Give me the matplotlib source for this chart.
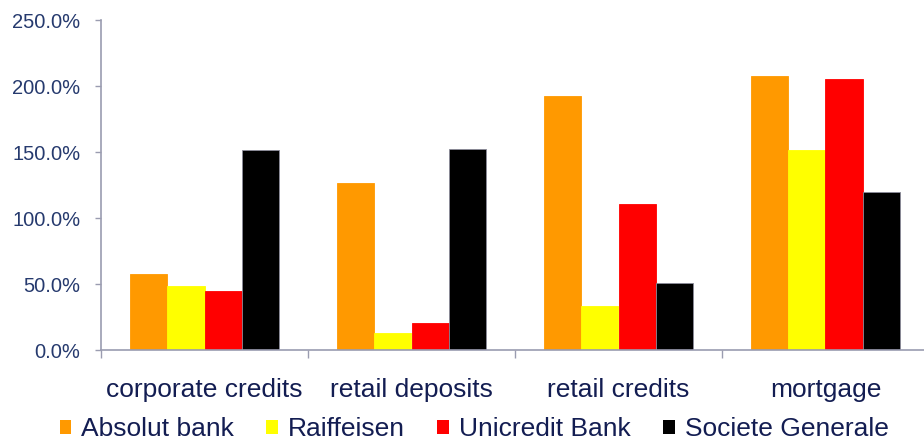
import matplotlib.pyplot as plt
import numpy as np
from matplotlib.patches import Patch
from matplotlib.ticker import FuncFormatter

# data (in %)
categories = ['corporate credits', 'retail deposits', 'retail credits', 'mortgage']
banks      = ['Absolut bank', 'Raiffeisen', 'Unicredit Bank', 'Societe Generale']
colors     = ['#FF9900', '#FFFF00', '#FF0000', '#000000']
absolut    = [57.5, 126.5, 192.5, 207.5]
raiffeisen = [48.5, 13.0, 33.5, 151.5]
unicredit  = [44.5, 20.5, 110.5, 205.5]
societe    = [151.5, 152.0, 50.5, 119.5]
yticks     = [0, 50, 100, 150, 200, 250]

plt.rcParams['font.family'] = ['Liberation Sans', 'DejaVu Sans']
AXIS  = '#9A9CB0'
TICK  = '#263A6E'
LABEL = '#131D52'

fig = plt.figure(figsize=(9.24, 4.40), dpi=100)
ax  = fig.add_axes([101 / 924, 90 / 440, 828 / 924, 330 / 440])

series = [absolut, raiffeisen, unicredit, societe]
x = np.arange(len(categories))
w = 0.181
for j, (vals, col) in enumerate(zip(series, colors)):
	edge = '#8C8C9A' if col == '#000000' else col
	ax.bar(x + (j - 1.5) * w, vals, width=w, color=col, edgecolor=edge, linewidth=0.6, label=banks[j])

# axes styling
ax.set_xlim(-0.5, 3.5)
ax.set_ylim(0, 250)
ax.set_yticks(yticks)
ax.yaxis.set_major_formatter(FuncFormatter(lambda v, p: '%.1f%%' % v))
ax.tick_params(axis='y', length=4, width=1, color=AXIS, pad=11, labelsize=14.5, labelcolor=TICK)
ax.set_xticks(x)
ax.set_xticklabels(categories)
ax.set_xticks([-0.5, 0.5, 1.5, 2.5, 3.5], minor=True)
ax.tick_params(axis='x', which='major', length=0, pad=20, labelsize=19, labelcolor=LABEL)
ax.tick_params(axis='x', which='minor', length=6, width=1, color=AXIS)
for s in ['top', 'right']:
	ax.spines[s].set_visible(False)
for s in ['left', 'bottom']:
	ax.spines[s].set_color(AXIS)
	ax.spines[s].set_linewidth(1.2)

# legend
handles = [Patch(facecolor=c, edgecolor='none') for c in colors]
leg = fig.legend(handles, banks, loc='center', bbox_to_anchor=(474 / 924, 11 / 440), ncol=4, frameon=False,
		fontsize=19, handlelength=0.45, handleheight=0.45, handletextpad=0.38, columnspacing=1.21,
		borderpad=0, borderaxespad=0)
for t in leg.get_texts():
	t.set_color(LABEL)

fig.savefig('out.png', dpi=100)
